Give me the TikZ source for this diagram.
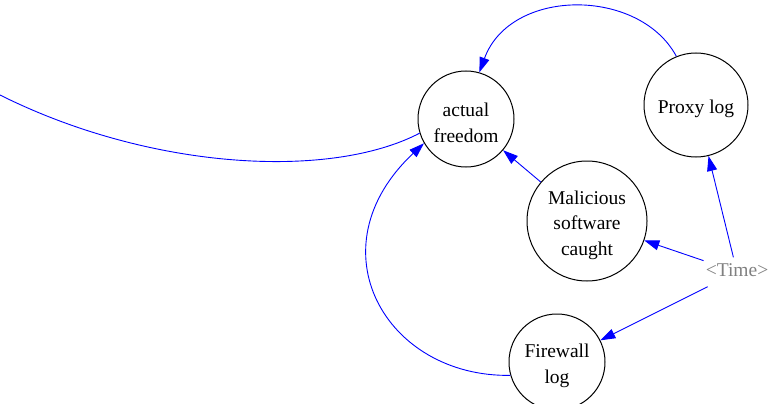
\documentclass[tikz,border=0pt]{standalone}
\usepackage{fontspec}
\setmainfont{Liberation Serif}
\usetikzlibrary{arrows.meta}
% taller first line so the label block sits a little lower in its circle
\newcommand\lift{\rule{0pt}{21.5pt}}
\begin{document}
\begin{tikzpicture}[x=1pt,y=-1pt,
  var/.style={circle, draw=black, line width=1pt, inner sep=0pt, align=center,
    font=\fontsize{19.5}{25.5}\selectfont},
  link/.style={draw=blue, line width=0.9pt, -{Triangle[length=15pt,width=10pt]}},
  plain/.style={draw=blue, line width=0.9pt},
  shadow/.style={text=gray, inner xsep=2pt, inner ysep=5pt, text height=14pt,
    text depth=5pt, font=\fontsize{19.5}{25.5}\selectfont}]
\useasboundingbox (0,0) rectangle (768,404);

% variables
\node[var, minimum size=96pt]  (free)  at (466,119) {\lift actual\\freedom};
\node[var, minimum size=104pt] (proxy) at (696,105) {\lift Proxy log};
\node[var, minimum size=120pt] (mal)   at (587,221) {\lift Malicious\\software\\caught};
\node[var, minimum size=96pt]  (fire)  at (557,362) {\lift Firewall\\log};
\node[shadow] (time) at (737,272) {<Time>};
\coordinate (farleft) at (0,95);

% links
\draw[link] (proxy.112) .. controls +(-37,-69) and +(31,-85) .. (free.74);
\draw[link] (mal) -- (free);
\draw[link] (fire.196) .. controls +(-125,2) and +(-112,105) .. (free.210);
\draw[plain] (free.197) .. controls (330,180) and (150,170) .. (farleft);
\draw[link] (time) -- (proxy);
\draw[link] (time) -- (mal);
\draw[link] (time) -- (fire);
\end{tikzpicture}
\end{document}
